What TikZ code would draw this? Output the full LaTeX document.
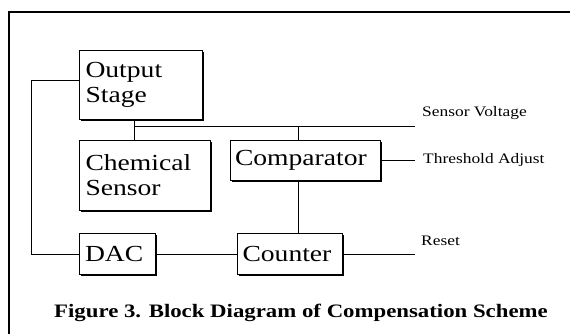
\documentclass[tikz,border=0pt]{standalone}
\usepackage{fontspec}
\setmainfont{Liberation Serif}
\newfontfamily\widefont[FakeStretch=1.2]{Liberation Serif}
\usetikzlibrary{shadows}
\begin{document}
\begin{tikzpicture}[x=1pt,y=-1pt,
  blk/.style={draw, line width=0.9pt, fill=white, align=left, anchor=center,
    inner sep=0pt, text width=#1, font=\widefont\fontsize{23}{25}\selectfont,
    drop shadow={shadow xshift=1.6pt, shadow yshift=-1.6pt, opacity=1, fill=black}},
  wire/.style={line width=0.7pt},
  lbl/.style={anchor=west, inner sep=0pt, font=\widefont\fontsize{14.5}{16}\selectfont}]
\useasboundingbox (0,0) rectangle (570,334);
% frame
\draw[line width=1.4pt] (570,12) -- (9,12) -- (9,334);
% blocks
\node[blk=110pt, minimum width=123pt, minimum height=69pt] (os) at (140.5,84.5) {Output\\Stage};
\node[blk=118pt, minimum width=131pt, minimum height=70pt] (cs) at (144.5,175) {Chemical\\Sensor};
\node[blk=140pt, minimum width=150pt, minimum height=40pt] (cmp) at (305,160) {Comparator};
\node[blk=64pt, minimum width=76pt, minimum height=41pt] (dac) at (117,254) {DAC};
\node[blk=94pt, minimum width=105pt, minimum height=41pt] (cnt) at (289.5,254) {Counter};
% free ends
\coordinate (svend) at (415,126);
\coordinate (thend) at (415,160);
\coordinate (rsend) at (415,254);
\coordinate (fbtop) at (31,80);
\coordinate (fbbot) at (31,254);
\coordinate (osout) at (134,126);
\coordinate (cmpin) at (298,126);
% connectors
\draw[wire] (os.west |- fbtop) -- (fbtop) -- (fbbot) -- (dac.west);
\draw[wire] (os.south -| osout) -- (cs.north -| osout);
\draw[wire] (osout) -- (svend);
\draw[wire] (cmpin) -- (cmp.north -| cmpin);
\draw[wire] (cmp.east) -- (thend);
\draw[wire] (cmp.south -| cmpin) -- (cnt.north -| cmpin);
\draw[wire] (dac.east) -- (cnt.west);
\draw[wire] (cnt.east) -- (rsend);
% labels
\node[lbl] (sv) at (422,113) {Sensor Voltage};
\node[lbl] (th) at (423,160) {Threshold Adjust};
\node[lbl] (rs) at (421,241) {Reset};
\node[inner sep=0pt, font=\widefont\bfseries\fontsize{19}{21}\selectfont] (cap) at (301,313) {Figure 3. Block Diagram of Compensation Scheme};
\end{tikzpicture}
\end{document}
